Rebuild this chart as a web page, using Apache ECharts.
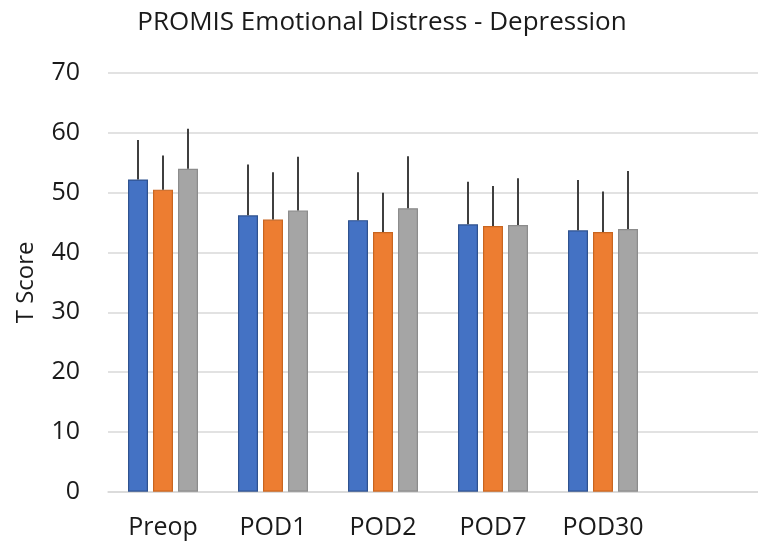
<!DOCTYPE html>
<html>
<head>
<meta charset="utf-8">
<script src="https://cdn.jsdelivr.net/npm/echarts@6/dist/echarts.min.js"></script>
<style>
  html, body { margin: 0; padding: 0; background: #fff; overflow: hidden; }
  /* the drawing surface is a little wider than the window so the plot runs off the right edge */
  #chart { width: 768px; height: 549px; }
</style>
</head>
<body>
<div id="chart"></div>
<script>
// Time points (the trailing blank slot leaves room on the right like the original layout)
const categories = ['Preop', 'POD1', 'POD2', 'POD7', 'POD30', ''];
const yTicks = [0, 10, 20, 30, 40, 50, 60, 70];

// Mean T scores per group
const groupA = [52.2, 46.2, 45.4, 44.7, 43.7];
const groupB = [50.5, 45.5, 43.4, 44.4, 43.4];
const groupC = [54.0, 47.0, 47.4, 44.6, 43.9];

// Standard deviations (drawn as upward error bars)
const sdA = [6.6, 8.5, 8.0, 7.1, 8.4];
const sdB = [5.7, 7.9, 6.6, 6.7, 6.8];
const sdC = [6.7, 9.0, 8.7, 7.8, 9.7];

const colors = ['#4472C4', '#ED7D31', '#A5A5A5'];
const borders = ['#2F528F', '#C9651F', '#8C8C8C'];
const BAR_W = 20;
const BAR_GAP = 5;
const FONT = 'Open Sans';
const TEXT = '#1a1a1a';

function errorSeries(means, sds, idx) {
  return {
    type: 'custom',
    z: 5,
    data: means.map((m, i) => [i, m, m + sds[i]]),
    renderItem: function (params, api) {
      const offset = (idx - 1) * (BAR_W + BAR_GAP);
      const p0 = api.coord([api.value(0), api.value(1)]);
      const p1 = api.coord([api.value(0), api.value(2)]);
      const x = p0[0] + offset;
      return {
        type: 'line',
        shape: { x1: x, y1: p0[1], x2: x, y2: p1[1] },
        style: { stroke: '#3f3f3f', lineWidth: 2 }
      };
    }
  };
}

function barSeries(values, idx) {
  return {
    type: 'bar',
    data: values,
    barWidth: BAR_W,
    barGap: (BAR_GAP / BAR_W * 100) + '%',
    itemStyle: { color: colors[idx], borderColor: borders[idx], borderWidth: 1.2 }
  };
}

const chart = echarts.init(document.getElementById('chart'), null, { renderer: 'canvas' });
chart.setOption({
  animation: false,
  title: {
    text: 'PROMIS Emotional Distress - Depression',
    left: 377,
    textAlign: 'center',
    top: 5,
    textStyle: { fontFamily: FONT, fontWeight: 'normal', fontSize: 26, color: TEXT }
  },
  grid: { left: 108, right: 0, top: 73, bottom: 57.3 },
  xAxis: {
    type: 'category',
    data: categories,
    axisLine: { lineStyle: { color: '#d9d9d9', width: 1.5 } },
    axisTick: { show: false },
    axisLabel: { fontFamily: FONT, fontSize: 25, color: TEXT, margin: 24 }
  },
  yAxis: {
    type: 'value',
    min: yTicks[0],
    max: yTicks[yTicks.length - 1],
    interval: 10,
    name: 'T Score',
    nameLocation: 'middle',
    nameGap: 70,
    nameRotate: 90,
    nameTextStyle: { fontFamily: FONT, fontSize: 24, color: TEXT },
    axisLine: { show: false },
    axisTick: { show: false },
    axisLabel: { fontFamily: FONT, fontSize: 25, color: TEXT, margin: 28 },
    splitLine: { lineStyle: { color: '#d9d9d9', width: 1.5 } }
  },
  series: [
    barSeries(groupA, 0),
    barSeries(groupB, 1),
    barSeries(groupC, 2),
    errorSeries(groupA, sdA, 0),
    errorSeries(groupB, sdB, 1),
    errorSeries(groupC, sdC, 2)
  ]
});
</script>
</body>
</html>
